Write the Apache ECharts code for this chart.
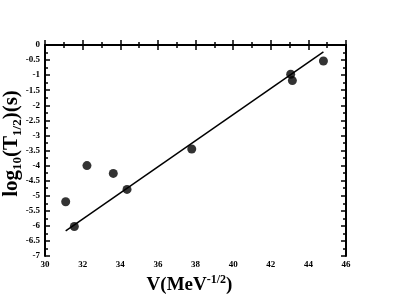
<!DOCTYPE html>
<html><head><meta charset="utf-8">
<script src="https://cdn.jsdelivr.net/npm/echarts@6/dist/echarts.min.js"></script>
<style>html,body{margin:0;padding:0;background:#fff}#c{width:415px;height:294px}</style>
</head><body><div id="c"></div>
<script>
const xPts = [31.10, 31.56, 32.23, 33.63, 34.36, 37.80, 43.06, 43.15, 44.80];
const yPts = [-5.20, -6.02, -4.00, -4.26, -4.79, -3.45, -0.97, -1.18, -0.53];
const fitX = [31.10, 44.80];
const fitY = [-6.17, -0.23];
const xTicks = [30, 32, 34, 36, 38, 40, 42, 44, 46];
const yTicks = [0, -0.5, -1, -1.5, -2, -2.5, -3, -3.5, -4, -4.5, -5, -5.5, -6, -6.5, -7];

const F = 'Liberation Serif';
const chart = echarts.init(document.getElementById('c'));
const axLine = {show: true, lineStyle: {color: '#000', width: 2}};
const tick = {show: true, inside: true, length: 5, lineStyle: {color: '#000', width: 1.5}};
const minor = {show: true, splitNumber: 2, length: 3, lineStyle: {color: '#000', width: 1.5}};
const lab = {color: '#000', fontFamily: F, fontWeight: 'bold', fontSize: 9};
const big = {fontFamily: F, fontWeight: 'bold', fontSize: 19, color: '#000', lineHeight: 22};
const bigY = {fontFamily: F, fontWeight: 'bold', fontSize: 21, color: '#000', lineHeight: 24};
const sub = {fontFamily: F, fontWeight: 'bold', fontSize: 13, color: '#000', lineHeight: 24, verticalAlign: 'bottom', padding: [9, 0, 0, 0]};
const sup = {fontFamily: F, fontWeight: 'bold', fontSize: 12, color: '#000', lineHeight: 22, verticalAlign: 'top', padding: [0, 0, 12, 0]};

chart.setOption({
  animation: false,
  grid: {left: 45, top: 45, right: 69, bottom: 38, outerBoundsMode: 'none', containLabel: false},
  xAxis: [{
    type: 'value', min: xTicks[0], max: xTicks[xTicks.length - 1], interval: 2,
    axisLine: axLine, axisTick: tick, minorTick: minor, splitLine: {show: false},
    axisLabel: Object.assign({margin: 4}, lab),
    name: '{b|V(MeV}{p|-1/2}{b|)}', nameLocation: 'middle', nameGap: 16,
    nameTextStyle: {rich: {b: big, p: sup}, padding: [0, 12, 0, 0]}
  }, {
    type: 'value', position: 'top', min: xTicks[0], max: xTicks[xTicks.length - 1], interval: 2,
    axisLine: axLine, axisTick: tick, minorTick: minor, splitLine: {show: false}, axisLabel: {show: false}
  }],
  yAxis: [{
    type: 'value', min: yTicks[yTicks.length - 1], max: yTicks[0], interval: 0.5,
    axisLine: axLine, axisTick: tick, minorTick: minor, splitLine: {show: false},
    axisLabel: Object.assign({margin: 5}, lab),
    name: '{b|log}{s|10}{b|(T}{s|1/2}{b|)(s)}', nameLocation: 'middle', nameGap: 21, nameRotate: 90,
    nameMoveOverlap: false,
    nameTextStyle: {rich: {b: bigY, s: sub}, padding: [0, 0, 0, 14]}
  }, {
    type: 'value', position: 'right', min: yTicks[yTicks.length - 1], max: yTicks[0], interval: 0.5,
    axisLine: axLine, axisTick: tick, minorTick: minor, splitLine: {show: false}, axisLabel: {show: false}
  }],
  series: [{
    type: 'scatter', symbol: 'circle', symbolSize: 9, itemStyle: {color: '#000'},
    data: xPts.map((x, i) => [x, yPts[i]])
  }, {
    type: 'line', symbol: 'none', lineStyle: {color: '#000', width: 1.5},
    data: fitX.map((x, i) => [x, fitY[i]])
  }]
});
</script></body></html>
